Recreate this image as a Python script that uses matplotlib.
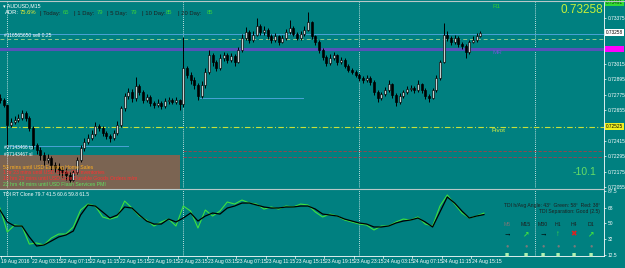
import numpy as np
import matplotlib
matplotlib.use("Agg")
import matplotlib.pyplot as plt
import matplotlib.transforms as mtransforms

plt.rcParams["font.family"] = ["Liberation Sans", "DejaVu Sans"]

W, H = 625, 268
BG = "#008080"

# AUDUSD 30 min bars, prices in points above 0.70000 (first bar = 19 Aug 23:00)
first_open_pts = 2750
close_pts = [2734, 2695, 2539, 2562, 2578, 2594, 2633, 2594, 2516, 2383,
             2344, 2305, 2266, 2282, 2227, 2204, 2188, 2172, 2149, 2110,
             2172, 2266, 2360, 2406, 2438, 2469, 2531, 2516, 2477, 2453,
             2438, 2477, 2539, 2672, 2765, 2796, 2750, 2843, 2796, 2734,
             2757, 2711, 2695, 2711, 2687, 2726, 2734, 2718, 2734, 2703,
             2984, 2929, 2890, 2851, 2765, 2851, 2952, 3085, 3030, 2984,
             3062, 3085, 3046, 3077, 3030, 3124, 3218, 3264, 3202, 3241,
             3311, 3264, 3280, 3233, 3202, 3233, 3186, 3218, 3264, 3296,
             3249, 3218, 3249, 3280, 3342, 3233, 3186, 3124, 3069, 3023,
             3062, 3085, 3030, 3046, 3000, 2968, 2952, 2929, 2906, 2890,
             2906, 2874, 2796, 2750, 2781, 2812, 2859, 2773, 2718, 2765,
             2796, 2820, 2828, 2812, 2859, 2812, 2765, 2750, 2812, 2906,
             3030, 3241, 3218, 3186, 3218, 3171, 3155, 3108, 3186, 3202,
             3233, 3257]
high_pts = [2780, 2750, 2705, 2590, 2610, 2625, 2660, 2650, 2610, 2530,
            2400, 2370, 2330, 2310, 2300, 2250, 2240, 2210, 2200, 2170,
            2190, 2290, 2380, 2440, 2470, 2500, 2560, 2550, 2530, 2490,
            2470, 2500, 2570, 2690, 2790, 2830, 2820, 2915, 2860, 2810,
            2780, 2770, 2730, 2740, 2725, 2750, 2760, 2750, 2755, 2745,
            3225, 3000, 2950, 2910, 2870, 2880, 2980, 3124, 3100, 3045,
            3090, 3110, 3100, 3100, 3090, 3150, 3250, 3300, 3280, 3270,
            3374, 3330, 3310, 3295, 3250, 3260, 3245, 3240, 3290, 3358,
            3310, 3265, 3275, 3310, 3420, 3350, 3245, 3200, 3140, 3085,
            3090, 3105, 3095, 3070, 3060, 3015, 2985, 2970, 2945, 2925,
            2930, 2920, 2890, 2810, 2800, 2835, 2890, 2870, 2790, 2785,
            2815, 2840, 2850, 2845, 2890, 2870, 2825, 2780, 2830, 2930,
            3050, 3335, 3270, 3235, 3240, 3230, 3190, 3170, 3205, 3230,
            3260, 3275]
low_pts = [2710, 2680, 2367, 2520, 2545, 2560, 2580, 2570, 2490, 2350,
           2310, 2270, 2230, 2240, 2190, 2170, 2150, 2130, 2110, 2095,
           2100, 2160, 2250, 2340, 2390, 2420, 2450, 2490, 2450, 2430,
           2410, 2420, 2460, 2520, 2650, 2740, 2720, 2730, 2770, 2710,
           2715, 2690, 2670, 2680, 2665, 2675, 2705, 2700, 2700, 2660,
           2680, 2905, 2860, 2820, 2734, 2750, 2830, 2940, 3000, 2960,
           2970, 3040, 3020, 3030, 3000, 3020, 3110, 3200, 3180, 3190,
           3230, 3240, 3245, 3210, 3180, 3190, 3165, 3175, 3205, 3250,
           3230, 3200, 3205, 3235, 3270, 3210, 3160, 3100, 3045, 3000,
           3010, 3045, 3010, 3015, 2985, 2950, 2935, 2910, 2885, 2870,
           2875, 2850, 2770, 2720, 2735, 2765, 2800, 2750, 2687, 2705,
           2750, 2780, 2805, 2790, 2800, 2790, 2740, 2718, 2740, 2800,
           2890, 3020, 3195, 3160, 3170, 3150, 3130, 3062, 3095, 3180,
           3190, 3225]

# TDI panel, hourly (first value = 19 Aug 23:00)
tdi_price = [67.4, 39.6, 47.7, 46.5, 25.6, 26.8, 24.5, 32.6, 37.2, 37.2,
             45.4, 65.1, 72.0, 69.7, 57.0, 54.6, 57.0, 75.5, 67.4, 58.1,
             53.5, 46.5, 51.2, 54.6, 46.5, 69.7, 63.9, 44.2, 65.1, 58.1,
             63.9, 74.4, 72.0, 76.7, 73.2, 72.0, 66.2, 68.6, 66.2, 69.7,
             68.6, 72.0, 70.9, 62.8, 57.0, 60.4, 58.1, 53.5, 51.2, 48.8,
             47.7, 41.9, 46.5, 46.5, 51.2, 54.6, 53.5, 57.0, 48.8, 46.5,
             69.7, 82.5, 72.0, 61.6, 55.8, 58.1, 61.5]
tdi_signal = [65.1, 51.2, 46.5, 46.5, 33.8, 23.3, 24.5, 29.1, 33.8, 36.1,
              40.7, 59.3, 70.9, 69.7, 62.8, 55.8, 59.3, 68.6, 67.4, 59.3,
              52.3, 48.8, 48.8, 54.6, 51.2, 55.8, 61.6, 52.3, 58.1, 61.6,
              60.4, 67.4, 69.7, 73.2, 73.2, 70.9, 68.6, 67.4, 67.4, 68.6,
              68.6, 69.7, 69.7, 66.2, 60.4, 59.3, 58.1, 54.6, 52.3, 50.0,
              48.8, 45.4, 45.4, 46.5, 50.0, 52.3, 53.5, 55.8, 51.2, 45.4,
              62.8, 80.2, 73.2, 63.9, 55.8, 58.1, 59.8]

# levels
bid = 0.73258
r1_level = 0.73491
sell_level = 0.73249
dash_level = 0.73210
mid_level = 0.73132
pivot_level = 0.72525
sl_levels = [0.72336, 0.72289]
order_lines = [(0.72750, 26.3, 40.3), (0.72375, -0.3, 16.5)]
news_box_top = 0.72305

price_ticks = [0.73375, 0.73015, 0.72895, 0.72775, 0.72655,
               0.72415, 0.72295, 0.72175, 0.72055]
tdi_ticks = [87.5, 68, 50, 32, 12.5]
day_starts = [0, 24, 48, 72]
time_labels = ["19 Aug 2016", "22 Aug 03:15", "22 Aug 07:15", "22 Aug 11:15",
               "22 Aug 15:15", "22 Aug 19:15", "22 Aug 23:15", "23 Aug 03:15",
               "23 Aug 07:15", "23 Aug 11:15", "23 Aug 15:15", "23 Aug 19:15",
               "23 Aug 23:15", "24 Aug 03:15", "24 Aug 07:15", "24 Aug 11:15",
               "24 Aug 15:15"]
time_label_hours = [-0.9] + [3.25 + 4 * k for k in range(16)]


def box(l, t, r, b):
    return [l / W, 1 - b / H, (r - l) / W, (b - t) / H]


def ftext(x, y, s, **kw):
    kw.setdefault("fontsize", 4.2)
    kw.setdefault("va", "center")
    kw.setdefault("color", "white")
    fig.text(x / W, 1 - y / H, s, **kw)


def hx(x):  # pixel -> hours since 22 Aug 00:00
    return (x - 7.3) / 7.333


fig = plt.figure(figsize=(W / 100, H / 100), dpi=100, facecolor=BG)
ax = fig.add_axes(box(0, 2, 604, 188))
axi = fig.add_axes(box(0, 189.5, 604, 255.5))

for a in (ax, axi):
    a.set_facecolor(BG)
    a.set_xlim(hx(0), hx(604))
    for s in ("top", "left", "bottom"):
        a.spines[s].set_visible(False)
    a.spines["right"].set_color("white")
    a.spines["right"].set_linewidth(0.6)
    a.set_xticks([])
    a.yaxis.tick_right()
    a.tick_params(axis="y", colors="white", labelsize=3.5, length=1.5,
                  width=0.5, pad=1)
    for d in day_starts:
        a.axvline(d, color="white", ls=(0, (1, 1.5)), lw=0.6, zorder=2)

ax.set_ylim(0.720478, 0.734986)
ax.set_yticks(price_ticks)
ax.set_yticklabels([f"{t:.5f}" for t in price_ticks])

# candles
c = 0.7 + np.array(close_pts) / 1e5
hi = 0.7 + np.array(high_pts) / 1e5
lo = 0.7 + np.array(low_pts) / 1e5
o = np.r_[0.7 + first_open_pts / 1e5, c[:-1]]
hours = (np.arange(len(c)) - 2) / 2.0
ax.vlines(hours, lo, hi, colors="black", lw=0.7, zorder=4)
ax.bar(hours, np.abs(c - o), bottom=np.minimum(o, c), width=0.3,
       color=np.where(c >= o, "#c8d0d0", "black"), edgecolor="black",
       linewidth=0.45, zorder=5)

# news box and levels
ax.fill_between([hx(0), hx(180)], 0.7204, news_box_top, color="#7b6452",
                lw=0, zorder=1)
ax.axhline(sell_level, color="#4aa3d6", lw=0.7, zorder=3)
ax.axhline(dash_level, color="#8fc88f", lw=0.7, ls=(0, (4, 3)), zorder=3)
ax.axhline(mid_level, color="#5652b8", lw=2.2, zorder=3)
ax.axhline(pivot_level, color="#c8e03a", lw=0.8, ls=(0, (5, 2, 1, 2)), zorder=3)
for lv in sl_levels:
    ax.plot([24, hx(604)], [lv, lv], color="#a0404a", lw=0.6,
            ls=(0, (4, 2)), zorder=3)
for lv, h0, h1 in order_lines:
    ax.plot([h0, h1], [lv, lv], color="#4aa3d6", lw=0.7, zorder=3)

trans = mtransforms.blended_transform_factory(ax.transAxes, ax.transData)
for lv, fc, tc in [(r1_level, "#33dd33", "#0a3a0a"), (bid, "white", "black"),
                   (mid_level, "#ff00ff", "#ff00ff"), (pivot_level, "#f0f020", "black")]:
    ax.text(1.003, lv, f"{lv:.5f}", transform=trans, fontsize=3.4, va="center",
            ha="left", color=tc, clip_on=False, zorder=10,
            bbox=dict(boxstyle="square,pad=0.2", fc=fc, ec="none"))

# TDI panel
axi.set_ylim(12.3, 88.9)
axi.set_yticks(tdi_ticks)
axi.set_yticklabels(["87.5", "68", "50", "32", "12.5"])
th = np.arange(len(tdi_price)) - 1.0
axi.plot(th, tdi_price, color="#3ee23e", lw=0.8, zorder=4)
axi.plot(th, tdi_signal, color="black", lw=0.9, zorder=5)

# separators / frame lines
fig.add_artist(plt.Line2D([0, 604 / W], [1 - 189 / H] * 2, color="#b8c8c8", lw=0.8))
fig.add_artist(plt.Line2D([0, 604 / W], [1 - 256 / H] * 2, color="white", lw=0.6))
fig.add_artist(plt.Line2D([0, 1], [1 - 1 / H] * 2, color="#b8c8c8", lw=0.8))

# header texts
ftext(3, 6, "▾ AUDUSD,M15", fontsize=3.8)
adr_parts = [(5, "ADR:", "white"), (20, "75.6%", "#f0f030"), (40, "| Today:", "#1e1e1e"),
             (63, "65", "#3ad23a"), (74, "| 1 Day:", "#1e1e1e"), (97, "79", "#3ad23a"),
             (107, "| 5 Day:", "#1e1e1e"), (131, "79", "#3ad23a"), (142, "| 10 Day:", "#1e1e1e"),
             (166, "85", "#3ad23a"), (178, "| 20 Day:", "#1e1e1e"), (207, "85", "#3ad23a")]
for x, s, col in adr_parts:
    ftext(x, 13, s, color=col, fontsize=4.2)

ftext(4, 36, "#116565650 sell 0.25", fontsize=3.6)
ftext(4, 147, "#07143466 tp", fontsize=3.4)
ftext(4, 154, "#07143467 sl", fontsize=3.4)
ftext(603, 10, "0.73258", fontsize=8.5, color="#c6f03a", ha="right")
ftext(493, 6, "R1", fontsize=4.5, color="#33cc33")
ftext(493, 52, "MR", fontsize=4.5, color="#6a5ad0")
ftext(492, 130, "Pivot", fontsize=4.5, color="#d8f040")
ftext(596, 172, "-10.1", fontsize=7.5, color="#66dd66", ha="right")

news = [(167, "53 mins until USD Existing Home Sales", "#ffb020"),
        (172, "1 hr 23 mins until USD Crude Oil Inventories", "#ff3030"),
        (178, "18 hrs 23 mins until USD Core Durable Goods Orders m/m", "#ff3030"),
        (184, "22 hrs 48 mins until USD Flash Services PMI", "#60e060")]
for y, s, col in news:
    ftext(3, y, s, color=col, fontsize=3.7)

ftext(3, 194, "TDI RT Clone 79.7 41.5 60.6 59.8 61.5", fontsize=3.6)
ftext(600, 206, "TDI h/Avg Angle: 43°  Green: 58°  Red: 38°", fontsize=3.6,
      color="#1e1e1e", ha="right")
ftext(600, 212, "TDI Separation: Good (2.5)", fontsize=3.6, color="#1e1e1e", ha="right")

tf_cols = [507, 526, 543, 558, 574, 591]
tf_names = ["M5", "M15", "M30", "H1", "H4", "D1"]
tf_arrows = ["→", "↗", "→", "↑", "✖", "↗"]
tf_colors = ["black", "#40e040", "black", "#40e040", "#e02020", "#40e040"]
for x, n, a, col in zip(tf_cols, tf_names, tf_arrows, tf_colors):
    ftext(x, 225, n, fontsize=3.8, color="#777777" if n == "M5" else "#1e1e1e", ha="center")
    ftext(x, 235, a, fontsize=5.5, color=col, ha="center", fontweight="bold")
    ftext(x, 246, "●", fontsize=4, color="#7a7a7a", ha="center")
    ftext(x, 255, "■", fontsize=5, color="#b0f0b0", ha="center")

# time axis
for hr, s in zip(time_label_hours, time_labels):
    x = 7.3 + hr * 7.333
    ftext(x + 0.5, 262, s, fontsize=3.6, ha="left")
    fig.add_artist(plt.Line2D([x / W] * 2, [1 - 256 / H, 1 - 258 / H], color="white", lw=0.5))

fig.savefig("out.png", dpi=100, facecolor=BG)
